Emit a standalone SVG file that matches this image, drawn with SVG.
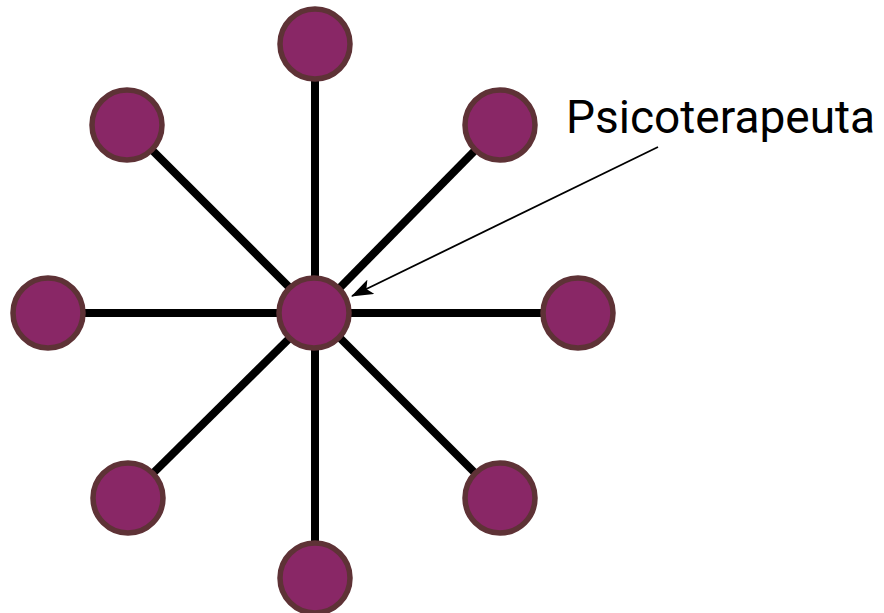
<svg xmlns="http://www.w3.org/2000/svg" width="884" height="613" viewBox="0 0 884 613">
  <style>
    .spoke { stroke: #000; stroke-width: 8; stroke-linecap: butt; }
    .node { fill: #892766; stroke: #5e3236; stroke-width: 5.5; }
    .pointer { stroke: #000; stroke-width: 1.8; fill: none; }
    .label { font-family: Roboto, "Liberation Sans", sans-serif; font-size: 46px; fill: #000; }
  </style>
  <defs>
    <marker id="arrowhead" viewBox="0 0 22 16" refX="21" refY="8" markerWidth="22" markerHeight="16" markerUnits="userSpaceOnUse" orient="auto">
      <path d="M0,0 L22,8 L0,16 L5,8 Z" fill="#000"/>
    </marker>
  </defs>
  <rect width="884" height="613" fill="#fff"/>

  <g id="connectors">
    <line class="spoke" x1="315" y1="313" x2="315" y2="44"/>
    <line class="spoke" x1="315" y1="313" x2="500" y2="125"/>
    <line class="spoke" x1="315" y1="313" x2="578" y2="313"/>
    <line class="spoke" x1="315" y1="313" x2="500" y2="498"/>
    <line class="spoke" x1="315" y1="313" x2="315" y2="578"/>
    <line class="spoke" x1="315" y1="313" x2="128" y2="498"/>
    <line class="spoke" x1="315" y1="313" x2="48" y2="313"/>
    <line class="spoke" x1="315" y1="313" x2="127" y2="125"/>
    <line class="pointer" x1="658" y1="147" x2="352" y2="296" marker-end="url(#arrowhead)"/>
  </g>

  <g id="node-top"><circle class="node" cx="315" cy="44" r="35"/></g>
  <g id="node-top-right"><circle class="node" cx="500" cy="125" r="35"/></g>
  <g id="node-right"><circle class="node" cx="578" cy="313" r="35"/></g>
  <g id="node-bottom-right"><circle class="node" cx="500" cy="498" r="35"/></g>
  <g id="node-bottom"><circle class="node" cx="315" cy="578" r="35"/></g>
  <g id="node-bottom-left"><circle class="node" cx="128" cy="498" r="35"/></g>
  <g id="node-left"><circle class="node" cx="48" cy="313" r="35"/></g>
  <g id="node-top-left"><circle class="node" cx="127" cy="125" r="35"/></g>
  <g id="node-center"><circle class="node" cx="314" cy="313" r="35"/></g>

  <g id="label-psicoterapeuta">
    <text class="label" x="566" y="133">Psicoterapeuta</text>
  </g>
</svg>
